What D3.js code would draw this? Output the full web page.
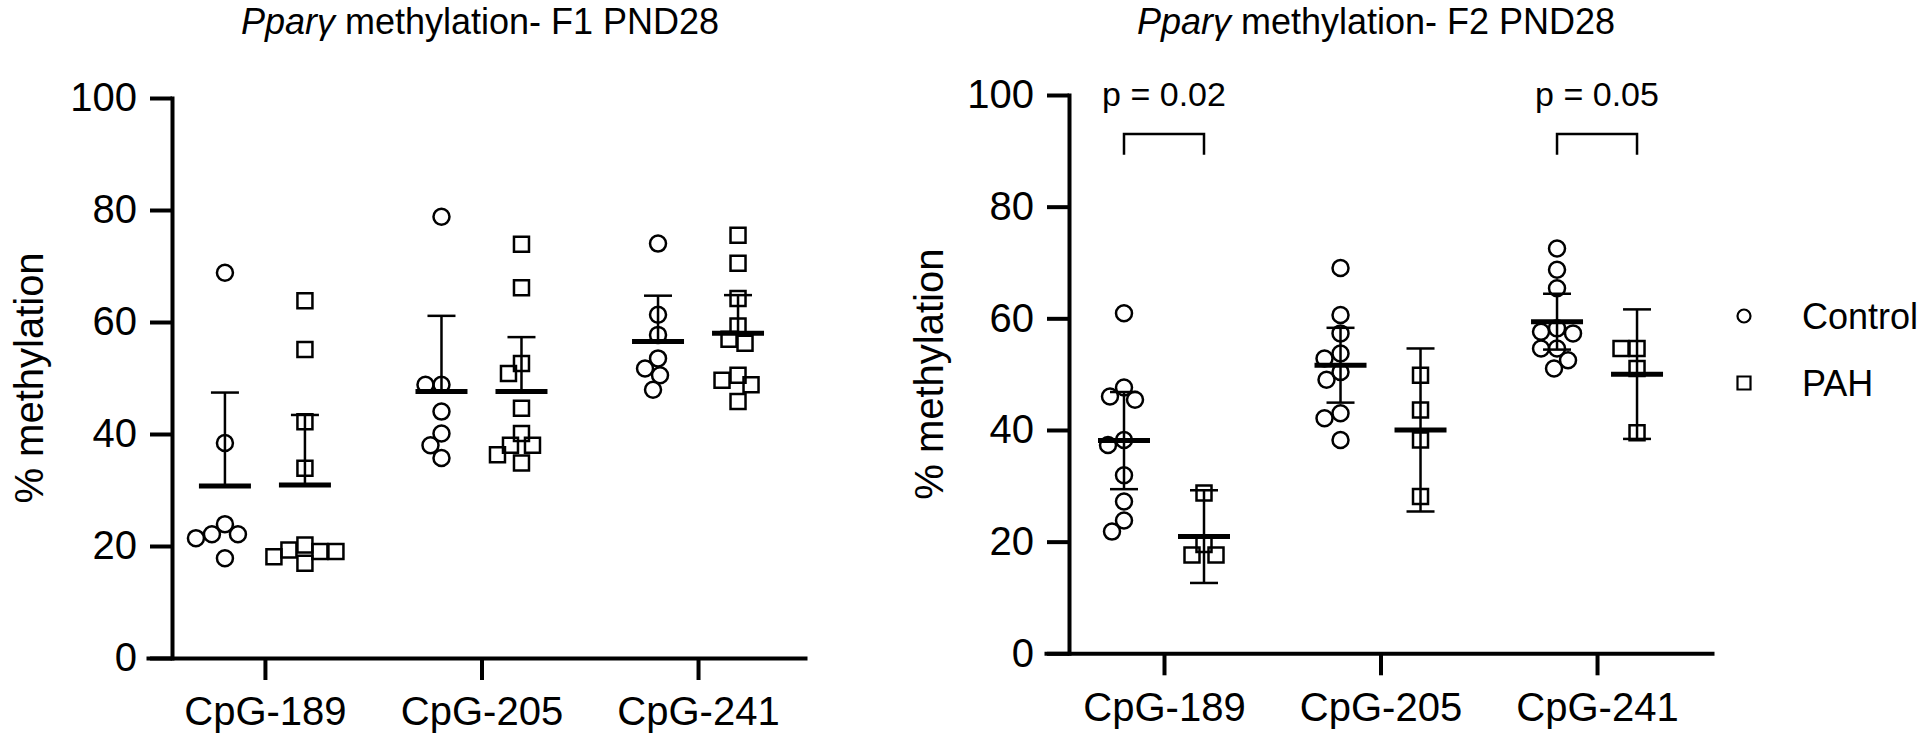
<!DOCTYPE html>
<html>
<head>
<meta charset="utf-8">
<script src="https://cdn.jsdelivr.net/npm/d3@7"></script>
<style>
  body { margin: 0; background: #fff; }
  svg text { font-family: "Liberation Sans", Arial, Helvetica, sans-serif; fill: #000; }
  .axis text { font-size: 40px; }
  .axis path, .axis line { stroke: #000; stroke-width: 4px; }
  .axis .domain { stroke-linecap: square; }
</style>
</head>
<body>
<svg id="chart" width="1920" height="745"></svg>
<script>

// ---- data ----
const categories = ["CpG-189", "CpG-205", "CpG-241"];
const groups = ["Control", "PAH"];
const yTicks = [0, 20, 40, 60, 80, 100];

// F1 PND28, one inner list per CpG site
const f1ControlValues = [
    [68.8, 38.4, 23.9, 22.1, 22.1, 21.4, 17.8],
    [78.8, 48.8, 48.8, 44.0, 40.1, 38.0, 35.7],
    [74.0, 61.3, 57.7, 53.5, 51.7, 50.5, 47.9]
];
const f1PahValues = [
    [63.8, 55.1, 42.2, 33.9, 20.2, 19.3, 19.0, 19.0, 18.1, 16.9],
    [73.9, 66.1, 52.6, 50.8, 44.6, 40.1, 38.0, 38.0, 36.3, 34.8],
    [75.5, 70.5, 64.2, 59.3, 56.9, 56.2, 50.5, 49.6, 48.8, 45.8]
];
const f1ControlMean = [30.7, 47.6, 56.5];
const f1ControlSD = [16.7, 13.5, 8.2];
const f1PahMean = [30.9, 47.6, 58.0];
const f1PahSD = [12.5, 9.7, 6.8];

// F2 PND28
const f2ControlValues = [
    [60.9, 47.6, 46.0, 45.4, 38.2, 37.3, 31.9, 27.2, 23.8, 21.8],
    [69.0, 60.6, 57.3, 53.7, 52.8, 50.4, 49.0, 43.0, 42.1, 38.2],
    [72.5, 68.7, 65.4, 58.2, 57.6, 57.3, 54.6, 54.6, 52.5, 51.0]
];
const f2PahValues = [
    [28.7, 19.5, 17.6, 17.6],
    [49.8, 43.6, 38.2, 28.1],
    [54.6, 54.6, 51.0, 39.5]
];
const f2ControlMean = [38.1, 51.6, 59.4];
const f2ControlSD = [8.7, 6.7, 5.0];
const f2PahMean = [20.9, 40.0, 50.0];
const f2PahSD = [8.3, 14.6, 11.6];

const f2pCategories = ["CpG-189", "CpG-241"];
const f2pLabels = ["p = 0.02", "p = 0.05"];


class MethylationPanel {

    constructor(_config) {
        this.config = _config;
        this.config.groupOffset = _config.groupOffset || 40;
        this.config.markerR = _config.markerR || 8;
        this.initVis();
    }

    initVis() {
        let vis = this;
        let c = vis.config;

        vis.svg = d3.select(c.parentElement);
        vis.chart = vis.svg.append('g');

        vis.y = d3.scaleLinear().domain([0, 100]).range([c.yZero, c.yTop]);
        vis.x = d3.scaleLinear().domain(c.xDomain).range([c.xStart, c.xEnd]);
        vis.g = d3.scalePoint().domain(groups).range([-c.groupOffset, c.groupOffset]);

        vis.symbols = {
            Control: d3.symbol().type(d3.symbolCircle).size(Math.PI * c.markerR * c.markerR),
            PAH: d3.symbol().type(d3.symbolSquare).size(15 * 15)
        };

        vis.axes();
        vis.render();
        if (c.pCategories) vis.brackets();
    }

    axes() {
        let vis = this;
        let c = vis.config;

        vis.chart.append('g')
            .attr('class', 'axis')
            .attr('transform', `translate(${c.axisX},0)`)
            .call(d3.axisLeft(vis.y).tickValues(yTicks).tickSize(22).tickSizeOuter(0).tickPadding(13));

        vis.chart.append('g')
            .attr('class', 'axis')
            .attr('transform', `translate(0,${c.yZero})`)
            .call(d3.axisBottom(vis.x).tickValues([0, 1, 2]).tickFormat(i => categories[i])
                .tickSize(22).tickSizeOuter(0).tickPadding(17));

        // y label
        vis.chart.append('text')
            .attr('transform', 'rotate(-90)')
            .attr('x', -(c.yZero + c.yTop) / 2)
            .attr('y', c.labelX)
            .attr('text-anchor', 'middle')
            .style('font-size', '40px')
            .text('% methylation');

        // title
        let title = vis.chart.append('text')
            .attr('x', c.titleX)
            .attr('y', 34)
            .attr('text-anchor', 'middle')
            .style('font-size', '36px');
        title.append('tspan').style('font-style', 'italic').text('Pparγ');
        title.append('tspan').text(' methylation- ' + c.title);
    }

    // simple beeswarm so overlapping points spread sideways
    swarm(values) {
        let vis = this;
        let minDist = 16;
        let pts = values.map(v => ({ v: v, py: vis.y(v) })).sort((a, b) => a.py - b.py);
        let placed = [];
        pts.forEach(p => {
            for (let d = 0; d < 80; d++) {
                let options = d === 0 ? [0] : [-d, d];
                let ok = options.find(dx => placed.every(q =>
                    Math.hypot(dx - q.dx, p.py - q.py) >= minDist));
                if (ok !== undefined) { p.dx = ok; break; }
            }
            placed.push(p);
        });
        return placed;
    }

    render() {
        let vis = this;
        let c = vis.config;

        categories.forEach((cat, i) => {
            groups.forEach(grp => {
                let cx = vis.x(i) + vis.g(grp);
                let pts = vis.swarm(c.values[grp][i]);

                vis.chart.append('g').selectAll('path')
                    .data(pts)
                    .join('path')
                    .attr('d', vis.symbols[grp])
                    .attr('transform', d => `translate(${cx + d.dx},${d.py})`)
                    .attr('fill', 'none')
                    .attr('stroke', '#000')
                    .attr('stroke-width', 2.5);

                let m = c.mean[grp][i];
                let sd = c.sd[grp][i];
                let lo = c.bothErrors ? m - sd : m;
                let hi = m + sd;

                vis.chart.append('line')
                    .attr('x1', cx).attr('x2', cx)
                    .attr('y1', vis.y(lo)).attr('y2', vis.y(hi))
                    .attr('stroke', '#000').attr('stroke-width', 2.5);

                let caps = c.bothErrors ? [lo, hi] : [hi];
                caps.forEach(v => {
                    vis.chart.append('line')
                        .attr('x1', cx - 14).attr('x2', cx + 14)
                        .attr('y1', vis.y(v)).attr('y2', vis.y(v))
                        .attr('stroke', '#000').attr('stroke-width', 2.5);
                });

                vis.chart.append('line')
                    .attr('x1', cx - 26).attr('x2', cx + 26)
                    .attr('y1', vis.y(m)).attr('y2', vis.y(m))
                    .attr('stroke', '#000').attr('stroke-width', 5);
            });
        });
    }

    brackets() {
        let vis = this;
        let c = vis.config;

        c.pCategories.forEach((cat, k) => {
            let i = categories.indexOf(cat);
            let x0 = vis.x(i) + vis.g('Control');
            let x1 = vis.x(i) + vis.g('PAH');
            vis.chart.append('path')
                .attr('d', `M${x0},${vis.y(89.3)}V${vis.y(93)}H${x1}V${vis.y(89.3)}`)
                .attr('fill', 'none')
                .attr('stroke', '#000')
                .attr('stroke-width', 2.5);
            vis.chart.append('text')
                .attr('x', vis.x(i))
                .attr('y', vis.y(98))
                .attr('text-anchor', 'middle')
                .style('font-size', '34px')
                .text(c.pLabels[k]);
        });
    }

    legend(lx, ly) {
        let vis = this;
        let leg = vis.svg.append('g').attr('transform', `translate(${lx},${ly})`);
        let small = {
            Control: d3.symbol().type(d3.symbolCircle).size(Math.PI * 6.5 * 6.5),
            PAH: d3.symbol().type(d3.symbolSquare).size(13 * 13)
        };
        groups.forEach((grp, k) => {
            leg.append('path')
                .attr('d', small[grp])
                .attr('transform', `translate(0,${k * 67})`)
                .attr('fill', 'none')
                .attr('stroke', '#000')
                .attr('stroke-width', 2.2);
            leg.append('text')
                .attr('x', 58)
                .attr('y', k * 67)
                .attr('dy', '0.36em')
                .style('font-size', '36px')
                .text(grp);
        });
    }
}

let f1 = new MethylationPanel({
    parentElement: '#chart',
    title: 'F1 PND28',
    values: { Control: f1ControlValues, PAH: f1PahValues },
    mean: { Control: f1ControlMean, PAH: f1PahMean },
    sd: { Control: f1ControlSD, PAH: f1PahSD },
    bothErrors: false,
    axisX: 172, yZero: 658, yTop: 98,
    xStart: 148, xEnd: 805, xDomain: [-0.54, 2.494],
    labelX: 43, titleX: 480
});

let f2 = new MethylationPanel({
    parentElement: '#chart',
    title: 'F2 PND28',
    values: { Control: f2ControlValues, PAH: f2PahValues },
    mean: { Control: f2ControlMean, PAH: f2PahMean },
    sd: { Control: f2ControlSD, PAH: f2PahSD },
    bothErrors: true,
    pCategories: f2pCategories, pLabels: f2pLabels,
    axisX: 1069, yZero: 653.3, yTop: 95,
    xStart: 1046, xEnd: 1712, xDomain: [-0.545, 2.531],
    labelX: 943, titleX: 1376
});
f2.legend(1744, 316);

</script>
</body>
</html>
